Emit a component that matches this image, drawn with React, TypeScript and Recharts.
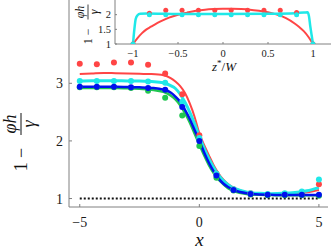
import React from 'react';
import { ComposedChart, Line, Scatter, XAxis, YAxis, CartesianGrid } from 'recharts';

// ---------- main plot data ----------
const dotX = [-5, -4.286, -3.571, -2.857, -2.143, -1.429, -0.714, 0, 0.714, 1.429, 2.143, 2.857, 3.571, 4.286, 5];
const redDots = [3.34, 3.33, 3.36, 3.36, 3.32, 3.17, 2.81, 2.1, 1.43, 1.16, 1.09, 1.07, 1.08, 1.1, 1.25];
const cyanDots = [3.04, 3.04, 3.04, 3.04, 3.03, 3.01, 2.68, 2.05, 1.43, 1.16, 1.09, 1.08, 1.09, 1.12, 1.33];
const blueDots = [2.94, 2.94, 2.94, 2.93, 2.92, 2.89, 2.59, 2.0, 1.4, 1.15, 1.08, 1.065, 1.065, 1.065, 1.065];
const greenDots = [2.93, 2.93, 2.93, 2.92, 2.87, 2.75, 2.44, 1.91, 1.36, 1.14, 1.07, 1.055, 1.055, 1.055, 1.05];

const lineX = [-5, -4.5, -4, -3.5, -3, -2.5, -2, -1.5, -1.2, -1, -0.8, -0.6, -0.4, -0.2, 0, 0.2, 0.4, 0.6, 0.8, 1, 1.2, 1.5, 2, 2.5, 3, 3.5, 4, 4.5, 5];
const redLine = [3.16, 3.17, 3.18, 3.175, 3.17, 3.165, 3.16, 3.14, 3.09, 3.03, 2.95, 2.83, 2.65, 2.42, 2.13, 1.93, 1.75, 1.58, 1.44, 1.33, 1.25, 1.17, 1.11, 1.085, 1.075, 1.08, 1.09, 1.11, 1.15];
const cyanLine = [3.04, 3.045, 3.045, 3.045, 3.04, 3.04, 3.03, 3.01, 2.96, 2.91, 2.81, 2.67, 2.5, 2.3, 2.08, 1.87, 1.69, 1.54, 1.41, 1.31, 1.24, 1.17, 1.11, 1.09, 1.085, 1.09, 1.105, 1.135, 1.19];
const blueLine = [2.94, 2.94, 2.94, 2.94, 2.935, 2.93, 2.92, 2.89, 2.84, 2.77, 2.68, 2.54, 2.38, 2.19, 2.0, 1.8, 1.62, 1.47, 1.35, 1.26, 1.2, 1.14, 1.09, 1.07, 1.065, 1.06, 1.06, 1.06, 1.06];
const greenLine = [2.92, 2.92, 2.92, 2.92, 2.915, 2.905, 2.89, 2.85, 2.79, 2.72, 2.62, 2.48, 2.32, 2.13, 1.94, 1.75, 1.58, 1.44, 1.33, 1.25, 1.18, 1.12, 1.08, 1.065, 1.06, 1.055, 1.055, 1.055, 1.055];

const floorX = [-5, 5];
const floorY = [1, 1];

const mainXTicks = [-5, 0, 5];
const mainYTicks = [1, 2, 3];

// ---------- inset data ----------
const insetDotZ = [-1, -0.818, -0.636, -0.455, -0.273, -0.091, 0.091, 0.273, 0.455, 0.636, 0.818, 1];
const insetRedDots = [1, 2.05, 2.15, 2.15, 2.15, 2.15, 2.15, 2.15, 2.15, 2.15, 2.07, 1];
const insetCyanDots = [1, 2, 2, 2, 2, 2, 2, 2, 2, 2, 2, 1];
const insetRedZ = [-1, -0.95, -0.9, -0.85, -0.8, -0.75, -0.7, -0.6, -0.5, -0.4, -0.3, -0.2, -0.1, 0, 0.1, 0.2, 0.3, 0.4, 0.5, 0.6, 0.7, 0.8, 0.85, 0.9, 0.95, 1];
const insetRedY = [1, 1.2, 1.37, 1.5, 1.59, 1.68, 1.76, 1.9, 2.0, 2.07, 2.13, 2.17, 2.19, 2.2, 2.2, 2.19, 2.17, 2.13, 2.08, 2.0, 1.88, 1.69, 1.57, 1.43, 1.24, 1];
const insetCyanZ = [-1, -0.985, -0.97, -0.95, -0.92, -0.85, -0.5, 0, 0.5, 0.8, 0.9, 0.94, 0.955, 0.97, 0.985, 1];
const insetCyanY = [1, 1.5, 1.85, 1.98, 2.03, 2.04, 2.025, 2.02, 2.03, 2.05, 2.07, 2.08, 1.95, 1.6, 1.3, 1];

const insetXTicks = [-1, -0.5, 0, 0.5, 1];
const insetYTicks = [1, 1.5, 2];

const RED = '#ff4545';
const CYAN = '#1fe8e8';
const BLUE = '#0010ee';
const GREEN = '#20c650';
const AXIS = '#808080';
const FONT = 'Liberation Serif';

const pts = (xs: number[], ys: number[]) => xs.map((x, i) => ({ x, y: ys[i] }));
const fmt = (v: number) => String(v).replace('-', '\u2212');

const dot = (color: string, r: number) => (p: any) => (
  <circle cx={p.cx} cy={p.cy} r={r} fill={color} stroke="none" />
);

const tickStyle = (size: number) => ({ fontSize: size, fill: '#1a1a1a', fontFamily: FONT });

export default function App() {
  return (
    <div style={{ position: 'absolute', left: 0, top: 0, width: 332, height: 250, background: '#fff', fontFamily: FONT }}>
      <div style={{ position: 'absolute', left: 0, top: 0 }}>
        <ComposedChart width={332} height={250} margin={{ top: 0, right: 4, bottom: 0, left: 0 }}>
          <XAxis
            xAxisId="b"
            dataKey="x"
            type="number"
            domain={[-5.45, 5.38]}
            allowDataOverflow
            ticks={mainXTicks}
            interval={0}
            height={43}
            tickSize={-3}
            tickMargin={13}
            tickFormatter={fmt}
            tick={tickStyle(14)}
            axisLine={{ stroke: AXIS }}
            tickLine={{ stroke: AXIS }}
          />
          <XAxis
            xAxisId="t"
            orientation="top"
            type="number"
            domain={[-5.45, 5.38]}
            allowDataOverflow
            ticks={mainXTicks}
            interval={0}
            height={0}
            tickSize={-3}
            tick={false}
            axisLine={{ stroke: AXIS }}
            tickLine={{ stroke: AXIS }}
          />
          <YAxis
            yAxisId="l"
            dataKey="y"
            type="number"
            domain={[0.853, 4.446]}
            allowDataOverflow
            ticks={mainYTicks}
            interval={0}
            width={69}
            tickSize={-3}
            tickMargin={9}
            tick={tickStyle(14)}
            axisLine={{ stroke: AXIS }}
            tickLine={{ stroke: AXIS }}
          />
          <YAxis
            yAxisId="r"
            orientation="right"
            type="number"
            domain={[0.853, 4.446]}
            allowDataOverflow
            ticks={mainYTicks}
            interval={0}
            width={0}
            tickSize={-3}
            tick={false}
            axisLine={{ stroke: AXIS }}
            tickLine={{ stroke: AXIS }}
          />
          <Line xAxisId="b" yAxisId="l" data={pts(floorX, floorY)} dataKey="y" type="linear" stroke="#111" strokeWidth={2} strokeDasharray="2 2" dot={false} isAnimationActive={false} />
          <Line xAxisId="b" yAxisId="l" data={pts(lineX, redLine)} dataKey="y" type="monotone" stroke={RED} strokeWidth={2} dot={false} isAnimationActive={false} />
          <Scatter xAxisId="b" yAxisId="l" data={pts(dotX, redDots)} dataKey="y" fill={RED} shape={dot(RED, 3)} isAnimationActive={false} />
          <Line xAxisId="b" yAxisId="l" data={pts(lineX, greenLine)} dataKey="y" type="monotone" stroke={GREEN} strokeWidth={2.5} dot={false} isAnimationActive={false} />
          <Scatter xAxisId="b" yAxisId="l" data={pts(dotX, greenDots)} dataKey="y" fill={GREEN} shape={dot(GREEN, 3)} isAnimationActive={false} />
          <Line xAxisId="b" yAxisId="l" data={pts(lineX, cyanLine)} dataKey="y" type="monotone" stroke={CYAN} strokeWidth={3} dot={false} isAnimationActive={false} />
          <Scatter xAxisId="b" yAxisId="l" data={pts(dotX, cyanDots)} dataKey="y" fill={CYAN} shape={dot(CYAN, 3)} isAnimationActive={false} />
          <Line xAxisId="b" yAxisId="l" data={pts(lineX, blueLine)} dataKey="y" type="monotone" stroke={BLUE} strokeWidth={2.5} dot={false} isAnimationActive={false} />
          <Scatter xAxisId="b" yAxisId="l" data={pts(dotX, blueDots)} dataKey="y" fill={BLUE} shape={dot(BLUE, 3)} isAnimationActive={false} />
        </ComposedChart>
      </div>

      <div style={{ position: 'absolute', left: 0, top: 0 }}>
        <ComposedChart width={332} height={75} margin={{ top: 0, right: 1, bottom: 0, left: 0 }}>
          <CartesianGrid xAxisId="b" yAxisId="l" fill="#fff" horizontal={false} vertical={false} stroke="none" />
          <XAxis
            xAxisId="b"
            dataKey="x"
            type="number"
            domain={[-1.2, 1.2]}
            allowDataOverflow
            ticks={insetXTicks}
            interval={0}
            height={31}
            tickSize={-2}
            tickMargin={8}
            tickFormatter={fmt}
            tick={tickStyle(10.5)}
            axisLine={{ stroke: AXIS }}
            tickLine={{ stroke: AXIS }}
          />
          <XAxis
            xAxisId="t"
            orientation="top"
            type="number"
            domain={[-1.2, 1.2]}
            allowDataOverflow
            ticks={insetXTicks}
            interval={0}
            height={0}
            tickSize={-2}
            tick={false}
            axisLine={{ stroke: AXIS }}
            tickLine={{ stroke: AXIS }}
          />
          <YAxis
            yAxisId="l"
            dataKey="y"
            type="number"
            domain={[1, 2.5]}
            allowDataOverflow
            ticks={insetYTicks}
            interval={0}
            width={115}
            tickSize={-2}
            tickMargin={6}
            tick={tickStyle(10.5)}
            axisLine={{ stroke: AXIS }}
            tickLine={{ stroke: AXIS }}
          />
          <YAxis
            yAxisId="r"
            orientation="right"
            type="number"
            domain={[1, 2.5]}
            allowDataOverflow
            ticks={insetYTicks}
            interval={0}
            width={0}
            tickSize={-2}
            tick={false}
            axisLine={{ stroke: AXIS }}
            tickLine={{ stroke: AXIS }}
          />
          <Line xAxisId="b" yAxisId="l" data={pts(insetRedZ, insetRedY)} dataKey="y" type="monotone" stroke={RED} strokeWidth={2} dot={false} isAnimationActive={false} />
          <Scatter xAxisId="b" yAxisId="l" data={pts(insetDotZ, insetRedDots)} dataKey="y" fill={RED} shape={dot(RED, 2.5)} isAnimationActive={false} />
          <Line xAxisId="b" yAxisId="l" data={pts(insetCyanZ, insetCyanY)} dataKey="y" type="monotone" stroke={CYAN} strokeWidth={2.5} dot={false} isAnimationActive={false} />
          <Scatter xAxisId="b" yAxisId="l" data={pts(insetDotZ, insetCyanDots)} dataKey="y" fill={CYAN} shape={dot(CYAN, 2.5)} isAnimationActive={false} />
        </ComposedChart>
      </div>

      <svg width={332} height={250} style={{ position: 'absolute', left: 0, top: 0, pointerEvents: 'none' }} fontFamily={FONT}>
        {/* main y label */}
        <g transform="translate(21,124) rotate(-90)" fill="#111">
          <text x={-42.7} y={5.6} fontSize={18} textAnchor="middle">1</text>
          <text x={-29} y={5.6} fontSize={18} textAnchor="middle">{'\u2212'}</text>
          <line x1={-11} x2={11} y1={0} y2={0} stroke="#111" strokeWidth={1} />
          <text x={0} y={-5} fontSize={18} fontStyle="italic" textAnchor="middle">{'\u03c6h'}</text>
          <text x={0} y={14} fontSize={18} fontStyle="italic" textAnchor="middle">{'\u03b3'}</text>
        </g>
        {/* main x label */}
        <text x={199.5} y={245.5} fontSize={19} fontStyle="italic" textAnchor="middle" fill="#111">x</text>
        {/* inset y label */}
        <g transform="translate(88,12) rotate(-90)" fill="#111">
          <text x={-29.2} y={3.8} fontSize={12} textAnchor="middle">1</text>
          <text x={-19.8} y={3.8} fontSize={12} textAnchor="middle">{'\u2212'}</text>
          <line x1={-7.5} x2={7.5} y1={0} y2={0} stroke="#111" strokeWidth={0.8} />
          <text x={0} y={-3.8} fontSize={12} fontStyle="italic" textAnchor="middle">{'\u03c6h'}</text>
          <text x={0} y={10} fontSize={12} fontStyle="italic" textAnchor="middle">{'\u03b3'}</text>
        </g>
        {/* inset x label */}
        <text x={224} y={71} fontSize={13} textAnchor="middle" fill="#111">
          <tspan fontStyle="italic">z</tspan>
          <tspan fontSize={9} dy={-5}>*</tspan>
          <tspan dy={5}>/</tspan>
          <tspan fontStyle="italic">W</tspan>
        </text>
      </svg>
    </div>
  );
}
